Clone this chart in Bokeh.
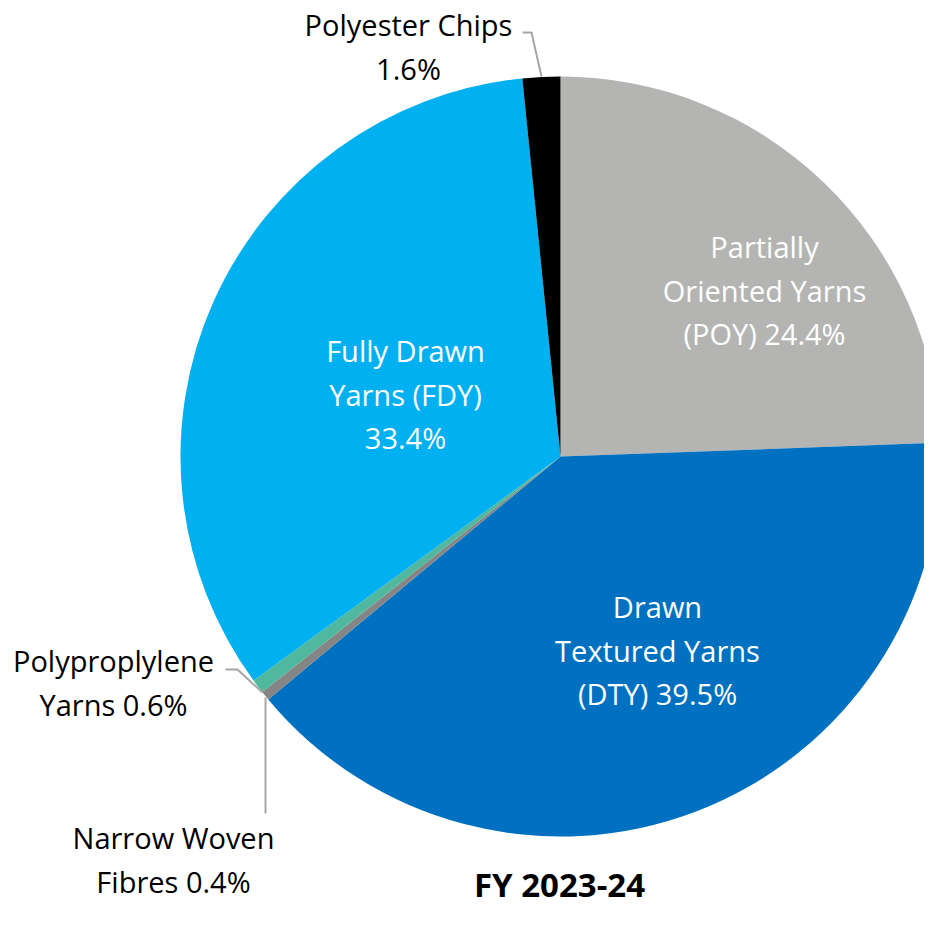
import math
from bokeh.plotting import figure
from bokeh.models import Range1d, ColumnDataSource
from bokeh.core.properties import value
from bokeh.embed import file_html
from bokeh.resources import INLINE

# ---- data ----
segments = ["Partially Oriented Yarns (POY)", "Drawn Textured Yarns (DTY)",
            "Narrow Woven Fibres", "Polypropylene Yarns",
            "Fully Drawn Yarns (FDY)", "Polyester Chips"]
shares = [24.4, 39.5, 0.4, 0.6, 33.4, 1.6]
colors = ["#B4B5B2", "#0070C0", "#858585", "#4FB89E", "#00B0F0", "#000000"]
title = "FY 2023-24"

W, H = 924, 912
p = figure(width=W, height=H, output_backend="svg", toolbar_location=None,
           x_range=Range1d(0, W), y_range=Range1d(0, H), min_border=0)
p.axis.visible = False
p.grid.visible = False
p.outline_line_color = None
p.background_fill_color = "white"
p.border_fill_color = "white"

def Y(py):
    return H - py

cx, cy, r = 560, Y(456), 380
total = sum(shares)
starts, ends = [], []
cum = 0.0
for s in shares:
    starts.append(math.pi / 2 - 2 * math.pi * cum / total)
    cum += s
    ends.append(math.pi / 2 - 2 * math.pi * cum / total)

src = ColumnDataSource(dict(x=[cx] * len(shares), y=[cy] * len(shares),
                            start=starts, end=ends, color=colors))
p.wedge(x="x", y="y", radius=r, start_angle="start", end_angle="end",
        direction="clock", fill_color="color", line_color=None, source=src)

# label texts
lab = {
    0: ["Partially", "Oriented Yarns", "(POY) %.1f%%" % shares[0]],
    1: ["Drawn", "Textured Yarns", "(DTY) %.1f%%" % shares[1]],
    2: ["Narrow Woven", "Fibres %.1f%%" % shares[2]],
    3: ["Polyproplylene", "Yarns %.1f%%" % shares[3]],
    4: ["Fully Drawn", "Yarns (FDY)", "%.1f%%" % shares[4]],
    5: ["Polyester Chips", "%.1f%%" % shares[5]],
}
anchors = {0: (764, 246, "white"), 1: (657, 606, "white"), 2: (173, 837, "black"),
           3: (113, 660, "black"), 4: (405, 350, "white"), 5: (408, 24, "black")}
LH = 43.5
tx, ty, tt, tc = [], [], [], []
for i, lines in lab.items():
    ax, ay, col = anchors[i]
    for k, line in enumerate(lines):
        tx.append(ax); ty.append(Y(ay + k * LH)); tt.append(line); tc.append(col)
p.text(x=tx, y=ty, text=tt, text_color=tc, text_align="center",
       text_baseline="middle", text_font=value("Open Sans"),
       text_font_size="29px")

# leader lines
lc = "#A6A6A6"
p.line([522, 531, 541], [Y(32), Y(32), Y(76)], line_color=lc, line_width=2)
p.line([225, 237, 262], [Y(669), Y(669), Y(692)], line_color=lc, line_width=2)
p.line([265, 265], [Y(697), Y(813)], line_color=lc, line_width=2)

p.text(x=[559], y=[Y(884)], text=[title], text_align="center",
       text_baseline="middle", text_font=value("Open Sans"),
       text_font_style="bold", text_font_size="33px", text_color="black")

open("out.html", "w").write(file_html(p, INLINE))
